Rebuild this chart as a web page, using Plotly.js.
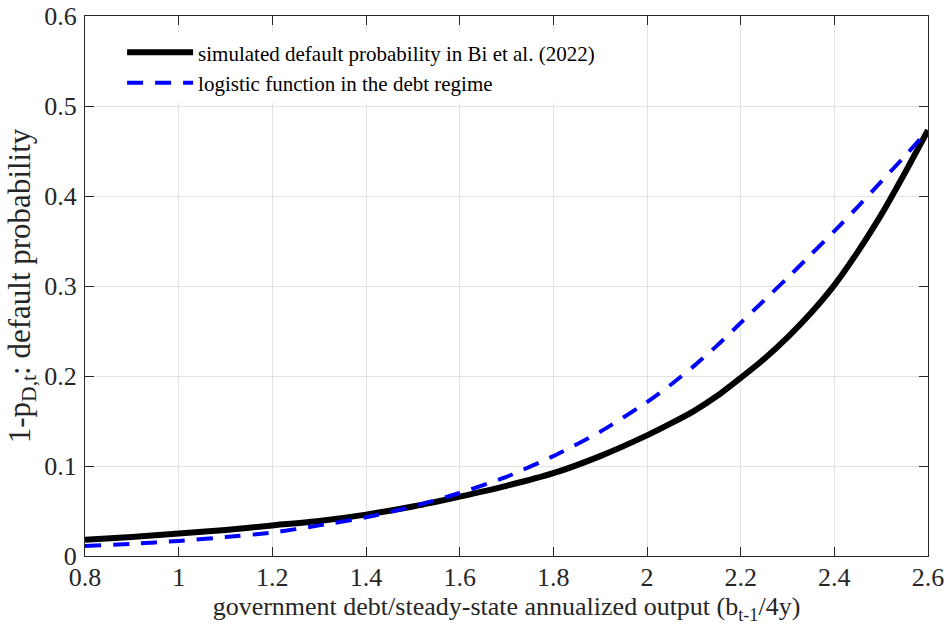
<!DOCTYPE html>
<html>
<head>
<meta charset="utf-8">
<script src="https://cdn.plot.ly/plotly-3.0.1.min.js"></script>
<style>
html,body{margin:0;padding:0;background:#fff;}
#chart{width:946px;height:632px;}
#chart .xtick text, #chart .ytick text { font-family: "Liberation Serif", "Times New Roman", Times, serif !important; }
</style>
</head>
<body>
<div id="chart"></div>
<script>
const debtRatio = [0.8,0.9,1.0,1.1,1.2,1.3,1.4,1.5,1.6,1.7,1.8,1.9,2.0,2.05,2.1,2.15,2.2,2.25,2.3,2.35,2.4,2.45,2.5,2.55,2.6];
const simulatedProb = [0.018,0.021,0.025,0.029,0.034,0.039,0.046,0.055,0.066,0.078,0.092,0.111,0.134,0.147,0.161,0.178,0.198,0.219,0.243,0.270,0.301,0.338,0.379,0.425,0.473];
const logisticProb = [0.011,0.0135,0.0167,0.021,0.026,0.034,0.043,0.055,0.070,0.088,0.111,0.138,0.171,0.190,0.211,0.234,0.259,0.284,0.309,0.335,0.361,0.388,0.416,0.444,0.473];
const seriesNames = ['simulated default probability in Bi et al. (2022)','logistic function in the debt regime'];
const xTicks = [0.8,1,1.2,1.4,1.6,1.8,2,2.2,2.4,2.6];
const yTicks = [0,0.1,0.2,0.3,0.4,0.5,0.6];

const font = '"Liberation Serif", "Times New Roman", Times, serif';
const traces = [
  {x: debtRatio, y: simulatedProb, name: seriesNames[0], mode: 'lines',
   line: {color: '#000000', width: 6, shape: 'spline', smoothing: 0.6}},
  {x: debtRatio, y: logisticProb, name: seriesNames[1], mode: 'lines',
   line: {color: '#0000ff', width: 4, dash: '16px,12px', shape: 'spline', smoothing: 0.6}}
];
function axisCommon() {
  return {
    showline: true, linecolor: '#262626', linewidth: 1, mirror: 'ticks',
    ticks: 'inside', ticklen: 9, tickcolor: '#262626', tickwidth: 1,
    showgrid: true, gridcolor: '#e3e3e3', gridwidth: 1, zeroline: false,
    tickfont: {family: font, size: 26, color: '#262626'}
  };
}
const layout = {
  width: 946, height: 632,
  margin: {l: 85, r: 18, t: 16, b: 76},
  paper_bgcolor: '#ffffff', plot_bgcolor: '#ffffff',
  font: {family: font, color: '#262626'},
  showlegend: true,
  legend: {x: 0.044, y: 0.97, xanchor: 'left', yanchor: 'top',
    bgcolor: '#ffffff', borderwidth: 0, itemwidth: 66,
    font: {family: font, size: 21, color: '#000000'}, tracegroupgap: 0},
  xaxis: Object.assign(axisCommon(), {
    range: [0.8, 2.6], tickvals: xTicks, ticktext: xTicks.map(String),
    ticklabelstandoff: -2,
    title: {text: 'government debt/steady-state annualized output (b<sub>t-1</sub>/4y)',
      font: {family: font, size: 26, color: '#262626'}, standoff: 0}
  }),
  yaxis: Object.assign(axisCommon(), {
    range: [0, 0.6], tickvals: yTicks, ticktext: yTicks.map(String),
    ticklabelstandoff: 2,
    title: {text: '1-p<sub>D,t</sub>: default probability',
      font: {family: font, size: 31, color: '#262626'}, standoff: 4}
  })
};
Plotly.newPlot('chart', traces, layout, {displayModeBar: false, staticPlot: true});
</script>
</body>
</html>
